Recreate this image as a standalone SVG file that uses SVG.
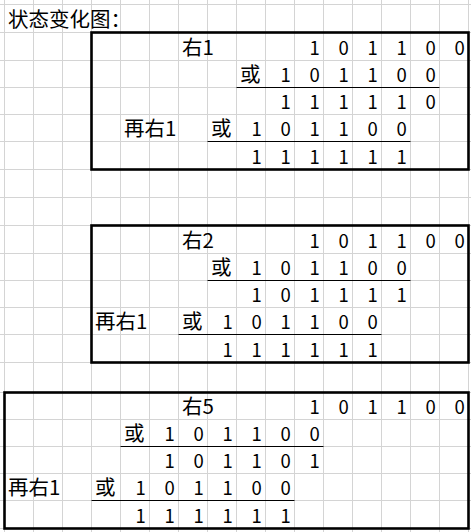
<svg xmlns="http://www.w3.org/2000/svg" width="471" height="532" viewBox="0 0 471 532">
<style>
.g{stroke:#d4d4d4;stroke-width:1;fill:none}
.box{stroke:#000;stroke-width:2.6;fill:none}
.ul{stroke:#000;stroke-width:1}
text{font-family:"Noto Sans CJK SC","Noto Sans",sans-serif;fill:#000}
.c{font-size:20.5px}
.d{font-size:18.5px;text-anchor:middle}
</style>
<rect width="471" height="532" fill="#fff"/>
<g id="grid" class="g">
<path d="M4.5 0V532M33.5 0V532M62.5 0V532M91.5 0V532M120.5 0V532M149.5 0V532M178.5 0V532M207.5 0V532M236.5 0V532M265.5 0V532M294.5 0V532M323.5 0V532M352.5 0V532M381.5 0V532M410.5 0V532M439.5 0V532M468.5 0V532"/>
<path d="M0 4.5H471M0 32.5H471M0 60.5H471M0 87.5H471M0 114.5H471M0 141.5H471M0 169.5H471M0 197.5H471M0 225.5H471M0 253.5H471M0 280.5H471M0 307.5H471M0 334.5H471M0 362.5H471M0 392.5H471M0 419.5H471M0 446.5H471M0 473.5H471M0 500.5H471M0 528.5H471"/>
</g>
<text id="title" class="c" x="8" y="27">状态变化图：</text>
<g id="block1">
<g class="ul"><path d="M236.5 87.5H439.5M207.5 141.5H410.5"/></g>
<text class="c" x="182" y="55">右1</text>
<text class="d" x="314.7 343.7 372.7 401.7 430.7 459.7" y="55">101100</text>
<text class="c" x="240" y="82">或</text>
<text class="d" x="285.7 314.7 343.7 372.7 401.7 430.7" y="82">101100</text>
<text class="d" x="285.7 314.7 343.7 372.7 401.7 430.7" y="109">111110</text>
<text class="c" x="124" y="136">再右1</text>
<text class="c" x="211" y="136">或</text>
<text class="d" x="256.7 285.7 314.7 343.7 372.7 401.7" y="136">101100</text>
<text class="d" x="256.7 285.7 314.7 343.7 372.7 401.7" y="164">111111</text>
<rect class="box" x="91.5" y="32.5" width="377" height="137"/>
</g>
<g id="block2">
<g class="ul"><path d="M207.5 280.5H410.5M178.5 334.5H381.5"/></g>
<text class="c" x="182" y="248">右2</text>
<text class="d" x="314.7 343.7 372.7 401.7 430.7 459.7" y="248">101100</text>
<text class="c" x="211" y="275">或</text>
<text class="d" x="256.7 285.7 314.7 343.7 372.7 401.7" y="275">101100</text>
<text class="d" x="256.7 285.7 314.7 343.7 372.7 401.7" y="302">101111</text>
<text class="c" x="95" y="329">再右1</text>
<text class="c" x="182" y="329">或</text>
<text class="d" x="227.7 256.7 285.7 314.7 343.7 372.7" y="329">101100</text>
<text class="d" x="227.7 256.7 285.7 314.7 343.7 372.7" y="357">111111</text>
<rect class="box" x="91.5" y="225.5" width="377" height="137"/>
</g>
<g id="block3">
<g class="ul"><path d="M120.5 446.5H323.5M91.5 500.5H294.5"/></g>
<text class="c" x="182" y="414">右5</text>
<text class="d" x="314.7 343.7 372.7 401.7 430.7 459.7" y="414">101100</text>
<text class="c" x="124" y="441">或</text>
<text class="d" x="169.7 198.7 227.7 256.7 285.7 314.7" y="441">101100</text>
<text class="d" x="169.7 198.7 227.7 256.7 285.7 314.7" y="468">101101</text>
<text class="c" x="8" y="495">再右1</text>
<text class="c" x="95" y="495">或</text>
<text class="d" x="140.7 169.7 198.7 227.7 256.7 285.7" y="495">101100</text>
<text class="d" x="140.7 169.7 198.7 227.7 256.7 285.7" y="523">111111</text>
<rect class="box" x="4.5" y="392.5" width="464" height="136"/>
</g>
</svg>
